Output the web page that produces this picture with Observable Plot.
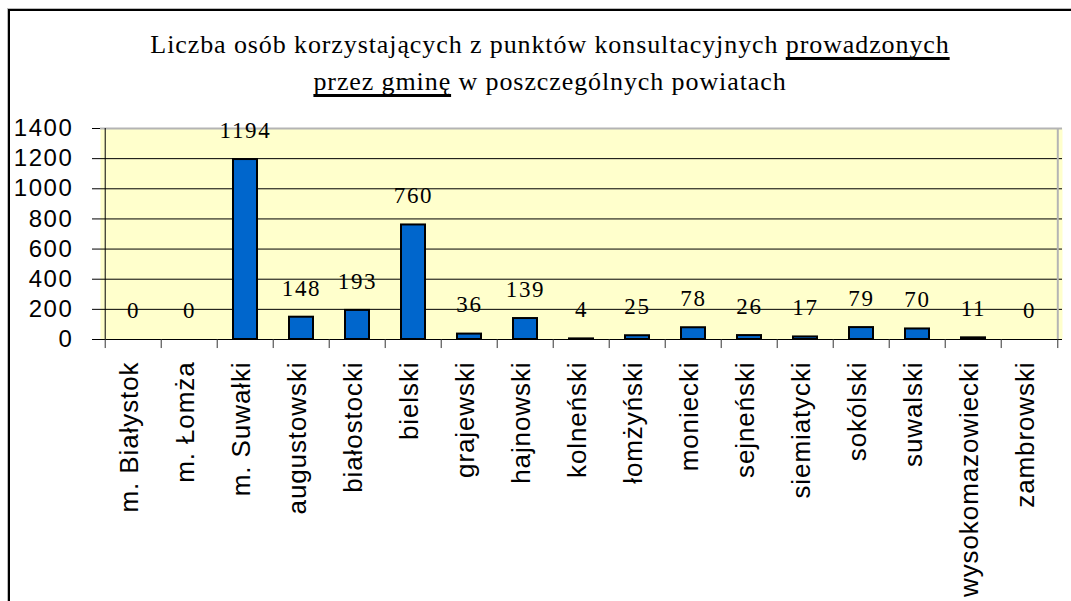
<!DOCTYPE html>
<html>
<head>
<meta charset="utf-8">
<script src="https://cdn.jsdelivr.net/npm/d3@7"></script>
<script src="https://cdn.jsdelivr.net/npm/@observablehq/plot@0.6"></script>
<style>
  html, body { margin: 0; padding: 0; background: #fff; }
  #wrap { position: relative; width: 1071px; height: 601px; overflow: hidden; }
  #frame { position: absolute; left: 8px; top: 9px; right: -10px; bottom: -10px;
           border-left: 2px solid #000; border-top: 2px solid #000; box-shadow: -1px -1px 0 #bbb; }
  #title { position: absolute; top: 26px; left: 0; width: 1100px; text-align: center;
           font-family: "Liberation Serif", "Times New Roman", serif; font-size: 26px; line-height: 37px;
           letter-spacing: 0.9px; color: #000; }
  #title u { text-decoration-thickness: 3px; text-underline-offset: 4px; text-decoration-skip-ink: none; }
  #chart { position: absolute; top: 100px; left: 0; }
  #chart g[aria-label="y-axis tick label"] text { letter-spacing: 1.6px; }
  #chart g.vlabels text { letter-spacing: 1.7px; }
  #chart g.xlabels text { letter-spacing: 0.9px; }
</style>
</head>
<body>
<div id="wrap">
  <div id="frame"></div>
  <div id="title">Liczba osób korzystających z punktów konsultacyjnych <u>prowadzonych</u><br><u>przez gminę</u> w poszczególnych powiatach</div>
  <div id="chart"></div>
</div>
<script>
const categories = ["m. Białystok", "m. Łomża", "m. Suwałki", "augustowski", "białostocki", "bielski", "grajewski", "hajnowski", "kolneński", "łomżyński", "moniecki", "sejneński", "siemiatycki", "sokólski", "suwalski", "wysokomazowiecki", "zambrowski"];
const values = [0, 0, 1194, 148, 193, 760, 36, 139, 4, 25, 78, 26, 17, 79, 70, 11, 0];
const yTicks = [0, 200, 400, 600, 800, 1000, 1200, 1400];
const gridValues = [200, 400, 600, 800, 1000, 1200];

const data = categories.map((name, i) => ({name, value: values[i]}));

const W = 1071, H = 501, mL = 100, mR = 9;
const bw = (W - mL - mR) / categories.length;

const chart = Plot.plot({
  width: W,
  height: H,
  marginLeft: mL,
  marginRight: mR,
  marginTop: 28,
  marginBottom: 262,
  style: {background: "transparent", overflow: "visible", color: "#000", fontFamily: "Liberation Sans, Arial, sans-serif"},
  x: {domain: categories, padding: 0, axis: null},
  y: {domain: [0, 1400], axis: null},
  marks: [
    Plot.frame({fill: "#ffffcc", stroke: null}),
    Plot.ruleY(gridValues, {stroke: "#000", strokeWidth: 1}),
    Plot.ruleY([1400], {stroke: "#b4b4b4", strokeWidth: 2}),
    Plot.ruleX([categories[categories.length - 1]], {dx: bw / 2, y1: 0, y2: 1400, stroke: "#b4b4b4", strokeWidth: 2}),
    Plot.barY(data, {x: "name", y: "value", fill: "#0066cc", stroke: "#000", strokeWidth: 2, insetLeft: 16, insetRight: 16}),
    Plot.ruleY([0], {stroke: "#000", strokeWidth: 1}),
    Plot.ruleX([categories[0]], {dx: -bw / 2, y1: 0, y2: 1400, stroke: "#000", strokeWidth: 1}),
    Plot.ruleX(categories, {dx: -bw / 2, y1: 0, y2: -60, stroke: "#333", strokeWidth: 1}),
    Plot.ruleX([categories[categories.length - 1]], {dx: bw / 2, y1: 0, y2: -60, stroke: "#333", strokeWidth: 1}),
    Plot.axisY({ticks: yTicks, tickSize: 8, tickPadding: 19, fontSize: 24, tickFormat: d => String(d), stroke: "#000", label: null}),
    Plot.text(categories, {x: d => d, y: () => 0, text: d => d, rotate: -90, textAnchor: "end", dy: 22, dx: -4, fontSize: 26, fill: "#000", className: "xlabels"}),
    Plot.text(data, {x: "name", y: "value", text: d => String(d.value), dy: -29, fontSize: 23, fontFamily: "Liberation Serif, Times New Roman, serif", fill: "#000", className: "vlabels"})
  ]
});
document.getElementById("chart").appendChild(chart);
</script>
</body>
</html>
